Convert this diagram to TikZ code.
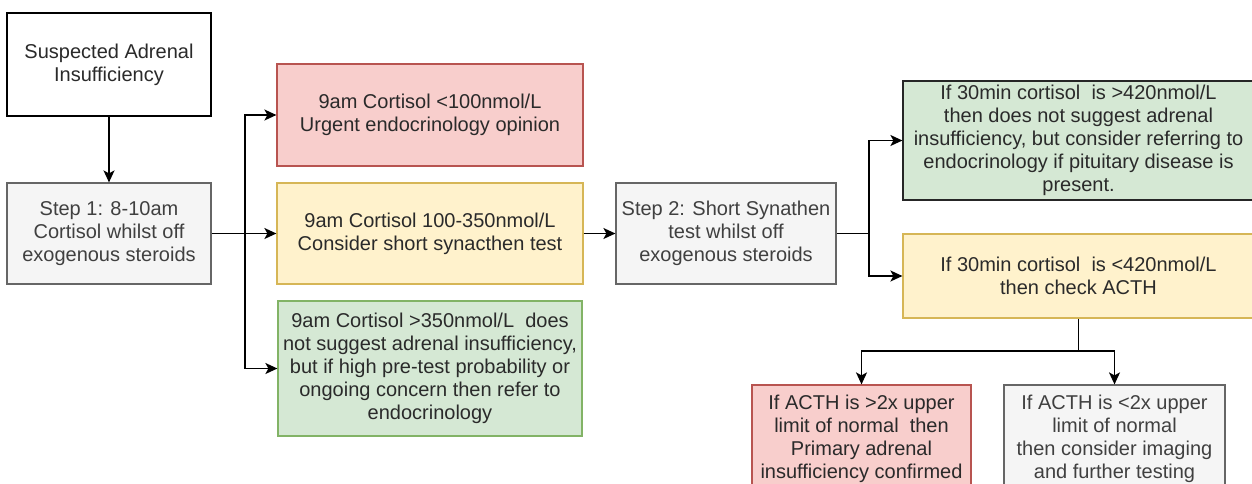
\documentclass[tikz,border=0pt]{standalone}
\usepackage{fontspec}
\setmainfont{Liberation Sans}
\usetikzlibrary{arrows.meta}
\definecolor{redfill}{HTML}{F8CECC}
\definecolor{redline}{HTML}{B85450}
\definecolor{yelfill}{HTML}{FFF2CC}
\definecolor{yelline}{HTML}{D6B656}
\definecolor{grnfill}{HTML}{D5E8D4}
\definecolor{grnline}{HTML}{82B366}
\definecolor{gryfill}{HTML}{F5F5F5}
\definecolor{gryline}{HTML}{666666}
\definecolor{darktext}{HTML}{2A2A2A}
\definecolor{graytext}{HTML}{404040}
\begin{document}
\begin{tikzpicture}[x=0.5pt,y=-0.5pt,
  box/.style={draw, line width=0.6pt, inner sep=0pt, align=center, text=darktext,
    font=\fontsize{10}{11.5}\selectfont},
  whitebox/.style={box, draw=black, fill=white},
  redbox/.style={box, draw=redline, fill=redfill},
  yelbox/.style={box, draw=yelline, fill=yelfill},
  grnbox/.style={box, draw=grnline, fill=grnfill},
  grybox/.style={box, draw=gryline, fill=gryfill, text=graytext},
  conn/.style={line width=0.8pt, draw=black},
  arr/.style={conn, -{Stealth[length=6pt,width=5.5pt,inset=1.5pt]}}]
\useasboundingbox (0,0) rectangle (1252,483);
\clip (0,0) rectangle (1252,483);
\fill[white] (0,0) rectangle (1252,483);

\node[whitebox, minimum width=102pt, minimum height=51.5pt] (A) at (109,64.5)
  {Suspected Adrenal\\Insufficiency};
\node[grybox, minimum width=102pt, minimum height=50.5pt] (S1) at (109,233.5)
  {Step 1: 8-10am\\Cortisol whilst off\\exogenous steroids};
\node[redbox, minimum width=153pt, minimum height=51pt] (R1) at (430,115)
  {9am Cortisol <100nmol/L\\Urgent endocrinology opinion};
\node[yelbox, minimum width=153pt, minimum height=50.5pt] (Y1) at (430,233.5)
  {9am Cortisol 100-350nmol/L\\Consider short synacthen test};
\node[grnbox, minimum width=152pt, minimum height=67.5pt] (G1) at (430,368.5)
  {9am Cortisol >350nmol/L\ \ does\\not suggest adrenal insufficiency,\\but if high pre-test probability or\\ongoing concern then refer to\\endocrinology};
\node[grybox, minimum width=110pt, minimum height=50.5pt] (S2) at (726,233.5)
  {Step 2: Short Synathen\\test whilst off\\exogenous steroids};
\node[grnbox, draw=black!85, minimum width=175.5pt, minimum height=59.5pt] (G2) at (1078.5,140.5)
  {If 30min cortisol\ \ is >420nmol/L\\then does not suggest adrenal\\insufficiency, but consider referring to\\endocrinology if pituitary disease is\\present.};
\node[yelbox, minimum width=175.5pt, minimum height=42pt] (Y2) at (1078.5,276)
  {If 30min cortisol\ \ is <420nmol/L\\then check ACTH};
\node[redbox, minimum width=109.5pt, minimum height=53.5pt] (R2) at (861.5,438.5)
  {If ACTH is >2x upper\\limit of normal\ \ then\\Primary adrenal\\insufficiency confirmed};
\node[grybox, minimum width=110.5pt, minimum height=53.5pt] (X2) at (1114.5,438.5)
  {If ACTH is <2x upper\\limit of normal\\then consider imaging\\and further testing};

\coordinate (J1) at (245,233.5);
\coordinate (J2) at (869,233.5);
\coordinate (J3) at (1078.5,351);

\draw[arr] (A) -- (S1);
\draw[arr] (S1) -- (Y1);
\draw[arr] (J1) |- (R1.west);
\draw[arr] (J1) |- (G1.west);
\draw[arr] (Y1) -- (S2);
\draw[conn] (S2.east) -- (J2);
\draw[arr] (J2) |- (G2.west);
\draw[arr] (J2) |- (Y2.west);
\draw[conn] (Y2.south) -- (J3);
\draw[arr] (J3) -| (R2.north);
\draw[arr] (J3) -| (X2.north);
\end{tikzpicture}
\end{document}
